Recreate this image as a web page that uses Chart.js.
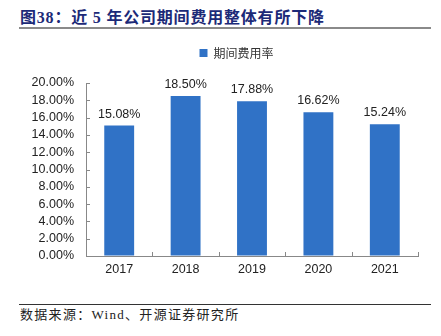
<!DOCTYPE html>
<html><head><meta charset="utf-8">
<script src="https://cdn.jsdelivr.net/npm/chart.js@4/dist/chart.umd.min.js"></script>
<style>
html,body{margin:0;padding:0;background:#fff;width:441px;height:336px;overflow:hidden;}
#title{position:absolute;left:20px;top:4px;font-family:"Liberation Serif","Noto Sans CJK SC";font-weight:bold;font-size:16px;color:#1c2a78;letter-spacing:0.8px;white-space:nowrap;}
#tline{position:absolute;left:19px;top:27px;width:412px;height:2px;background:#8a8a8a;}
#bline{position:absolute;left:19px;top:304px;width:412px;height:1px;background:#333;}
#src{position:absolute;left:20px;top:304px;font-family:"Liberation Serif","Noto Sans CJK SC";font-size:13px;color:#222;letter-spacing:1.3px;white-space:nowrap;}
#wrap{position:absolute;left:0;top:27px;width:441px;height:256px;}
</style></head><body>
<div id="title">图38：近 5 年公司期间费用整体有所下降</div>
<div id="tline"></div>
<div id="wrap"><canvas id="c"></canvas></div>
<div id="bline"></div>
<div id="src">数据来源：Wind、开源证券研究所</div>
<script>
const categories = ["2017","2018","2019","2020","2021"];
const seriesName = "期间费用率";
const values = [15.08, 18.50, 17.88, 16.62, 15.24];

const valueLabels = {
  id:'valueLabels',
  afterDatasetsDraw(chart){
    const ctx = chart.ctx;
    const meta = chart.getDatasetMeta(0);
    ctx.save();
    ctx.font = '12.5px "Liberation Sans", Arial, sans-serif';
    ctx.fillStyle = '#222';
    ctx.textAlign = 'center';
    ctx.textBaseline = 'alphabetic';
    meta.data.forEach((bar,i)=>{
      ctx.fillText(values[i].toFixed(2)+'%', bar.x, bar.y-8);
    });
    ctx.restore();
  }
};

const innerTicks = {
  id:'innerTicks',
  afterDraw(chart){
    const ctx = chart.ctx, xs = chart.scales.x, ys = chart.scales.y;
    const a = chart.chartArea;
    ctx.save();
    ctx.strokeStyle = '#888';
    ctx.lineWidth = 1;
    ctx.beginPath();
    ys.ticks.forEach(t=>{
      const y = Math.round(ys.getPixelForValue(t.value))+0.5;
      ctx.moveTo(a.left, y); ctx.lineTo(a.left+4, y);
    });
    const n = categories.length;
    for(let i=1;i<=n;i++){
      const x = Math.round(a.left + (a.right-a.left)*i/n)+0.5;
      ctx.moveTo(x, a.bottom); ctx.lineTo(x, a.bottom-4);
    }
    ctx.stroke();
    ctx.restore();
  }
};

const legendTweak = {
  id:'legendTweak',
  beforeLayout(chart){
    const lg = chart.legend;
    if(lg && !lg._patched){
      const orig = lg.fit;
      lg.fit = function(){ orig.apply(this, arguments); this.height += 14; };
      lg._patched = true;
    }
  },
  afterLayout(chart){
    const lg = chart.legend;
    if(lg){ lg.left += 12; lg.right += 12; }
  }
};

new Chart(document.getElementById('c'), {
  type:'bar',
  data:{labels:categories, datasets:[{label:seriesName, data:values, backgroundColor:'#3072c6', borderWidth:0, barPercentage:0.45, categoryPercentage:1.0}]},
  options:{
    responsive:true, maintainAspectRatio:false, animation:false,
    layout:{padding:{left:31,right:23,top:0,bottom:0}},
    plugins:{
      legend:{position:'top', labels:{boxWidth:8, boxHeight:8, padding:20, color:'#333', font:{family:'"Noto Sans CJK SC"', size:12}}},
      tooltip:{enabled:false}
    },
    scales:{
      x:{grid:{drawOnChartArea:false, drawTicks:false, color:'#888'}, border:{color:'#888'},
         ticks:{color:'#222', font:{family:'"Liberation Sans", Arial', size:12.5}, padding:6}},
      y:{min:0, max:20, grid:{drawOnChartArea:false, drawTicks:false, color:'#888'}, border:{color:'#888'},
         afterFit(s){ s.width = 55; },
         ticks:{stepSize:2, autoSkip:false, color:'#222', font:{family:'"Liberation Sans", Arial', size:12.5}, padding:12,
           callback:v=>v.toFixed(2)+'%'}}
    }
  },
  plugins:[valueLabels, innerTicks, legendTweak]
});
</script>
</body></html>
